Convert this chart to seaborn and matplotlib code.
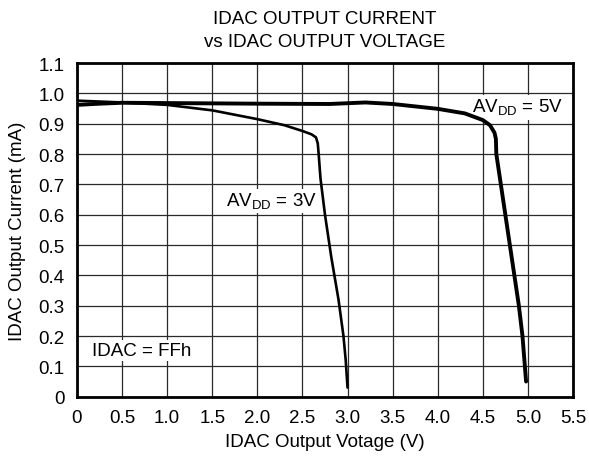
import pandas as pd
import matplotlib
matplotlib.use('Agg')
import matplotlib.pyplot as plt
import seaborn as sns

# curve for AVDD = 3V
v_3v = [0, 0.25, 0.5, 1.0, 1.5, 2.0, 2.3, 2.5, 2.6, 2.65, 2.67, 2.68, 2.70, 2.75, 2.82, 2.9, 2.955, 2.98, 3.0]
i_3v = [0.976, 0.973, 0.970, 0.962, 0.944, 0.915, 0.895, 0.876, 0.865, 0.855, 0.835, 0.80, 0.72, 0.60, 0.46, 0.32, 0.20, 0.12, 0.03]

# curve for AVDD = 5V
v_5v = [0, 0.25, 0.5, 1.0, 2.0, 2.8, 3.2, 3.5, 4.0, 4.3, 4.5, 4.58, 4.63, 4.645, 4.65, 4.7, 4.8, 4.9, 4.94, 4.98]
i_5v = [0.962, 0.966, 0.969, 0.968, 0.966, 0.965, 0.970, 0.965, 0.949, 0.934, 0.912, 0.895, 0.87, 0.85, 0.80, 0.70, 0.50, 0.30, 0.20, 0.05]

x_ticks = [0, 0.5, 1.0, 1.5, 2.0, 2.5, 3.0, 3.5, 4.0, 4.5, 5.0, 5.5]
x_labels = ['0', '0.5', '1.0', '1.5', '2.0', '2.5', '3.0', '3.5', '4.0', '4.5', '5.0', '5.5']
y_ticks = [0, 0.1, 0.2, 0.3, 0.4, 0.5, 0.6, 0.7, 0.8, 0.9, 1.0, 1.1]
y_labels = ['0', '0.1', '0.2', '0.3', '0.4', '0.5', '0.6', '0.7', '0.8', '0.9', '1.0', '1.1']

df = pd.concat([
    pd.DataFrame({'V': v_3v, 'I': i_3v, 'supply': '3V'}),
    pd.DataFrame({'V': v_5v, 'I': i_5v, 'supply': '5V'}),
])

sns.set_style('white')
plt.rcParams['font.family'] = ['Liberation Sans', 'DejaVu Sans']
plt.rcParams['font.size'] = 13.5
plt.rcParams['text.color'] = 'black'
plt.rcParams['axes.labelcolor'] = 'black'

fig, ax = plt.subplots(figsize=(5.89, 4.64), dpi=100)
fig.subplots_adjust(left=0.1307, right=0.9728, bottom=0.1429, top=0.862)

sns.lineplot(data=df, x='V', y='I', hue='supply', size='supply',
             palette={'3V': 'black', '5V': 'black'}, sizes={'3V': 1.9, '5V': 2.8},
             estimator=None, sort=False, legend=False, ax=ax, zorder=3)

ax.set_xlim(0, 5.5)
ax.set_ylim(0, 1.1)
ax.set_xticks(x_ticks)
ax.set_xticklabels(x_labels)
ax.set_yticks(y_ticks)
ax.set_yticklabels(y_labels)
ax.tick_params(length=0, pad=9, labelsize=13.5, colors='black')
ax.grid(True, color='#2a2a2a', linewidth=0.9)
ax.set_axisbelow(True)
for s in ax.spines.values():
    s.set_visible(True)
    s.set_color('black')
    s.set_linewidth(2)

ax.set_xlabel('IDAC Output Votage (V)', fontsize=13.5, labelpad=5, color='black')
ax.set_ylabel('IDAC Output Current (mA)', fontsize=13.5, labelpad=9, color='black')
ax.set_title('IDAC OUTPUT CURRENT\nvs IDAC OUTPUT VOLTAGE', fontsize=13.5, pad=12, linespacing=1.5, color='black')

box = dict(facecolor='white', edgecolor='none', pad=1.5)
ax.text(4.38, 0.954, r'AV$_{\mathregular{DD}}$ = 5V', fontsize=13.5, va='center', ha='left', bbox=box, zorder=2)
ax.text(1.65, 0.645, r'AV$_{\mathregular{DD}}$ = 3V', fontsize=13.5, va='center', ha='left', bbox=box, zorder=2)
ax.text(0.17, 0.151, 'IDAC = FFh', fontsize=13.5, va='center', ha='left', bbox=box, zorder=2)

plt.savefig('out.png', dpi=100)
